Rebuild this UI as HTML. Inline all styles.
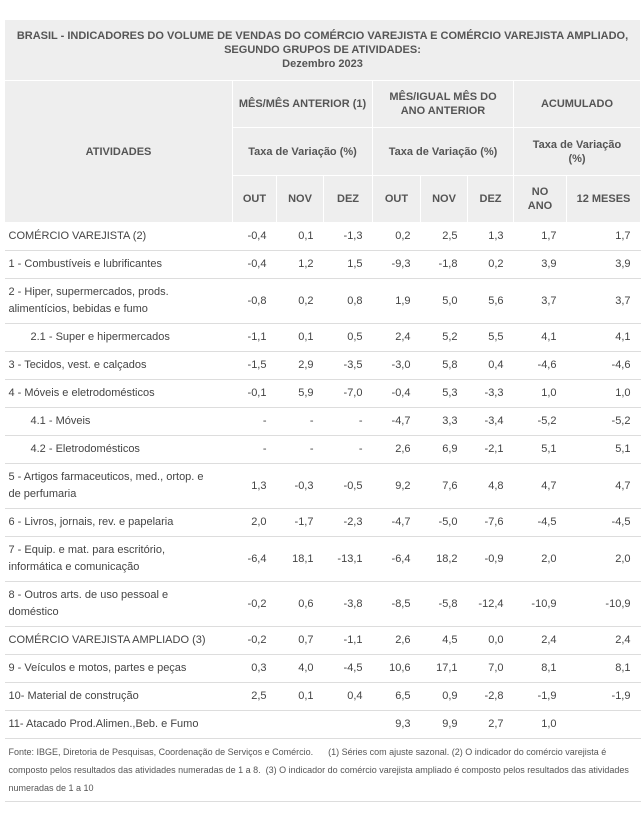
<!DOCTYPE html>
<html><head><meta charset="utf-8"><style>
body{margin:0;background:#fff;width:644px;height:822px;overflow:hidden;font-family:"Liberation Sans",sans-serif;}
table{position:absolute;left:4px;top:19px;width:636px;border-collapse:collapse;table-layout:fixed;}
th{background:#eeeeee;color:#555;font-weight:bold;font-size:11px;border:1px solid #fff;text-align:center;padding:0 2px;line-height:14px;}
td{font-size:11px;color:#444;border-bottom:1px solid #ddd;padding:0 10px 0 4px;text-align:right;line-height:17px;}
td.l{text-align:left;padding-left:4px;}
td.i{padding-left:26px;}
tr.s td{height:27px;}
tr.d td{height:44px;}
td.ft{font-size:9px;text-align:left;line-height:18px;padding:4px 4px 4px 4px;color:#555;}
</style></head><body>
<table>
<colgroup><col style="width:228px"><col style="width:44px"><col style="width:47px"><col style="width:49px"><col style="width:48px"><col style="width:47px"><col style="width:46px"><col style="width:53px"><col style="width:74px"></colgroup>
<tr style="height:61px"><th colspan="9">BRASIL - INDICADORES DO VOLUME DE VENDAS DO COMÉRCIO VAREJISTA E COMÉRCIO VAREJISTA AMPLIADO,<br>SEGUNDO GRUPOS DE ATIVIDADES:<br>Dezembro 2023</th></tr>
<tr style="height:47px"><th rowspan="3">ATIVIDADES</th><th colspan="3">MÊS/MÊS ANTERIOR (1)</th><th colspan="3">MÊS/IGUAL MÊS DO<br>ANO ANTERIOR</th><th colspan="2">ACUMULADO</th></tr>
<tr style="height:48px"><th colspan="3">Taxa de Variação (%)</th><th colspan="3">Taxa de Variação (%)</th><th colspan="2">Taxa de Variação<br>(%)</th></tr>
<tr style="height:47px"><th>OUT</th><th>NOV</th><th>DEZ</th><th>OUT</th><th>NOV</th><th>DEZ</th><th>NO<br>ANO</th><th>12 MESES</th></tr>
<tbody id="body"></tbody>
<tr><td colspan="9" class="ft">Fonte: IBGE, Diretoria de Pesquisas, Coordenação de Serviços e Comércio. &nbsp;&nbsp;&nbsp;&nbsp; (1) Séries com ajuste sazonal. (2) O indicador do comércio varejista é composto pelos resultados das atividades numeradas de 1 a 8. &nbsp;(3) O indicador do comércio varejista ampliado é composto pelos resultados das atividades numeradas de 1 a 10</td></tr>
</table>
<script>
const rows=[
["COMÉRCIO VAREJISTA (2)",0,["-0,4","0,1","-1,3","0,2","2,5","1,3","1,7","1,7"]],
["1 - Combustíveis e lubrificantes",0,["-0,4","1,2","1,5","-9,3","-1,8","0,2","3,9","3,9"]],
["2 - Hiper, supermercados, prods.<br>alimentícios, bebidas e fumo",1,["-0,8","0,2","0,8","1,9","5,0","5,6","3,7","3,7"]],
["2.1 - Super e hipermercados",2,["-1,1","0,1","0,5","2,4","5,2","5,5","4,1","4,1"]],
["3 - Tecidos, vest. e calçados",0,["-1,5","2,9","-3,5","-3,0","5,8","0,4","-4,6","-4,6"]],
["4 - Móveis e eletrodomésticos",0,["-0,1","5,9","-7,0","-0,4","5,3","-3,3","1,0","1,0"]],
["4.1 - Móveis",2,["-","-","-","-4,7","3,3","-3,4","-5,2","-5,2"]],
["4.2 - Eletrodomésticos",2,["-","-","-","2,6","6,9","-2,1","5,1","5,1"]],
["5 - Artigos farmaceuticos, med., ortop. e<br>de perfumaria",1,["1,3","-0,3","-0,5","9,2","7,6","4,8","4,7","4,7"]],
["6 - Livros, jornais, rev. e papelaria",0,["2,0","-1,7","-2,3","-4,7","-5,0","-7,6","-4,5","-4,5"]],
["7 - Equip. e mat. para escritório,<br>informática e comunicação",1,["-6,4","18,1","-13,1","-6,4","18,2","-0,9","2,0","2,0"]],
["8 - Outros arts. de uso pessoal e<br>doméstico",1,["-0,2","0,6","-3,8","-8,5","-5,8","-12,4","-10,9","-10,9"]],
["COMÉRCIO VAREJISTA AMPLIADO (3)",0,["-0,2","0,7","-1,1","2,6","4,5","0,0","2,4","2,4"]],
["9 - Veículos e motos, partes e peças",0,["0,3","4,0","-4,5","10,6","17,1","7,0","8,1","8,1"]],
["10- Material de construção",0,["2,5","0,1","0,4","6,5","0,9","-2,8","-1,9","-1,9"]],
["11- Atacado Prod.Alimen.,Beb. e Fumo",0,["","","","9,3","9,9","2,7","1,0",""]]
];
const tb=document.getElementById('body');
rows.forEach(r=>{
 const tr=document.createElement('tr');
 tr.className=r[1]==1?'d':'s';
 
 
 let h='<td class="l'+(r[1]==2?' i':'')+'">'+r[0]+'</td>';
 r[2].forEach(v=>{h+='<td>'+v+'</td>';});
 tr.innerHTML=h;
 tb.appendChild(tr);
});
</script>
</body></html>
